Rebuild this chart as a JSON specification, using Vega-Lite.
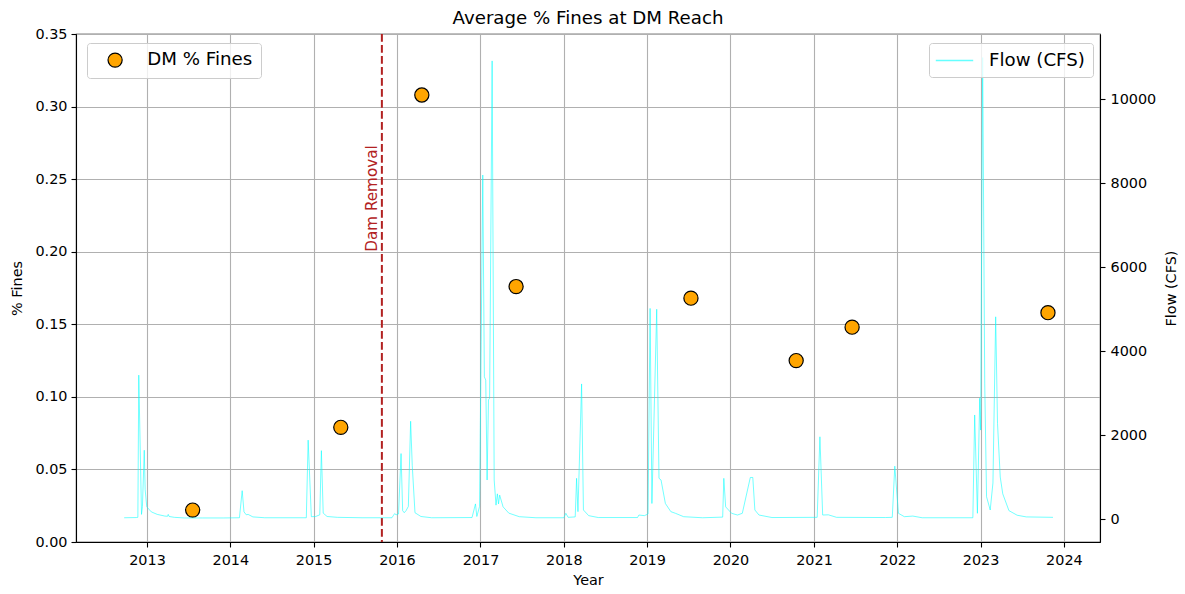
{
  "$schema": "https://vega.github.io/schema/vega-lite/v6.json",
  "width": 1024,
  "height": 508,
  "autosize": {"type": "none"},
  "padding": {"left": 76, "top": 34, "right": 85, "bottom": 52},
  "background": "white",
  "title": {"text": "Average % Fines at DM Reach", "font": "DejaVu Sans", "fontSize": 18.2, "fontWeight": "normal", "color": "black", "offset": -2},
  "config": {
    "font": "DejaVu Sans",
    "view": {"stroke": "black", "strokeWidth": 1.1},
    "axis": {
      "labelFont": "DejaVu Sans", "labelFontSize": 14.4, "labelColor": "black",
      "titleFont": "DejaVu Sans", "titleFontSize": 14.4, "titleFontWeight": "normal", "titleColor": "black",
      "tickColor": "black", "tickSize": 5, "tickWidth": 1.1,
      "domainColor": "black", "domainWidth": 1.1,
      "gridColor": "#b0b0b0", "gridWidth": 1.1, "labelPadding": 4
    },
    "legend": {"labelFont": "DejaVu Sans", "labelFontSize": 18.2, "labelColor": "black"}
  },
  "datasets": {
    "dam": [{"date": "2015-10-27", "label": "Dam Removal"}],
    "fines": [
      {"date": "2013-07-20", "fines": 0.022},
      {"date": "2015-04-30", "fines": 0.079},
      {"date": "2016-04-19", "fines": 0.308},
      {"date": "2017-06-06", "fines": 0.176},
      {"date": "2019-07-12", "fines": 0.168},
      {"date": "2020-10-15", "fines": 0.125},
      {"date": "2021-06-17", "fines": 0.148},
      {"date": "2023-10-23", "fines": 0.158}
    ],
    "flow": [
      {"date": "2012-09-23", "flow": 30},
      {"date": "2012-11-15", "flow": 35},
      {"date": "2012-11-22", "flow": 40},
      {"date": "2012-11-26", "flow": 3430},
      {"date": "2012-12-08", "flow": 110},
      {"date": "2012-12-12", "flow": 300},
      {"date": "2012-12-20", "flow": 1640},
      {"date": "2012-12-24", "flow": 700},
      {"date": "2012-12-31", "flow": 290},
      {"date": "2013-01-20", "flow": 170},
      {"date": "2013-02-15", "flow": 110},
      {"date": "2013-03-20", "flow": 70},
      {"date": "2013-04-01", "flow": 65},
      {"date": "2013-04-04", "flow": 110},
      {"date": "2013-04-08", "flow": 60},
      {"date": "2013-05-01", "flow": 40},
      {"date": "2013-06-15", "flow": 25},
      {"date": "2013-09-01", "flow": 25},
      {"date": "2013-12-01", "flow": 25},
      {"date": "2014-02-10", "flow": 30},
      {"date": "2014-02-22", "flow": 675},
      {"date": "2014-03-02", "flow": 170},
      {"date": "2014-03-12", "flow": 100},
      {"date": "2014-03-20", "flow": 110},
      {"date": "2014-04-10", "flow": 50},
      {"date": "2014-06-01", "flow": 30},
      {"date": "2014-11-30", "flow": 30},
      {"date": "2014-12-08", "flow": 1880},
      {"date": "2014-12-22", "flow": 55},
      {"date": "2015-01-10", "flow": 60},
      {"date": "2015-01-28", "flow": 100},
      {"date": "2015-02-04", "flow": 1630},
      {"date": "2015-02-12", "flow": 140},
      {"date": "2015-03-01", "flow": 60},
      {"date": "2015-04-15", "flow": 40},
      {"date": "2015-08-01", "flow": 30},
      {"date": "2015-12-10", "flow": 30},
      {"date": "2015-12-16", "flow": 80},
      {"date": "2015-12-22", "flow": 130},
      {"date": "2015-12-28", "flow": 100},
      {"date": "2016-01-08", "flow": 120},
      {"date": "2016-01-19", "flow": 1560},
      {"date": "2016-01-26", "flow": 200},
      {"date": "2016-02-02", "flow": 150},
      {"date": "2016-02-10", "flow": 200},
      {"date": "2016-02-20", "flow": 300},
      {"date": "2016-03-01", "flow": 2330},
      {"date": "2016-03-08", "flow": 1280},
      {"date": "2016-03-20", "flow": 150},
      {"date": "2016-04-15", "flow": 60},
      {"date": "2016-06-01", "flow": 30},
      {"date": "2016-11-25", "flow": 35},
      {"date": "2016-12-10", "flow": 360},
      {"date": "2016-12-16", "flow": 60},
      {"date": "2016-12-28", "flow": 300},
      {"date": "2017-01-11", "flow": 8200},
      {"date": "2017-01-18", "flow": 3390},
      {"date": "2017-01-24", "flow": 3310},
      {"date": "2017-01-30", "flow": 930},
      {"date": "2017-02-05", "flow": 2840},
      {"date": "2017-02-10", "flow": 2880},
      {"date": "2017-02-21", "flow": 10920},
      {"date": "2017-03-02", "flow": 930},
      {"date": "2017-03-10", "flow": 330},
      {"date": "2017-03-16", "flow": 600},
      {"date": "2017-03-21", "flow": 360},
      {"date": "2017-03-26", "flow": 570},
      {"date": "2017-04-10", "flow": 290},
      {"date": "2017-05-05", "flow": 140},
      {"date": "2017-06-20", "flow": 55},
      {"date": "2017-09-01", "flow": 30},
      {"date": "2018-01-01", "flow": 30},
      {"date": "2018-01-10", "flow": 136},
      {"date": "2018-01-20", "flow": 40},
      {"date": "2018-02-20", "flow": 50},
      {"date": "2018-02-26", "flow": 970},
      {"date": "2018-03-04", "flow": 175},
      {"date": "2018-03-20", "flow": 3220},
      {"date": "2018-03-28", "flow": 215},
      {"date": "2018-04-20", "flow": 80},
      {"date": "2018-06-01", "flow": 35},
      {"date": "2018-11-20", "flow": 35},
      {"date": "2018-11-26", "flow": 95},
      {"date": "2018-12-20", "flow": 80},
      {"date": "2019-01-05", "flow": 120},
      {"date": "2019-01-14", "flow": 5020},
      {"date": "2019-01-22", "flow": 370},
      {"date": "2019-02-12", "flow": 5000},
      {"date": "2019-02-22", "flow": 970},
      {"date": "2019-03-03", "flow": 930},
      {"date": "2019-03-22", "flow": 370},
      {"date": "2019-04-15", "flow": 175},
      {"date": "2019-05-05", "flow": 136},
      {"date": "2019-06-10", "flow": 55},
      {"date": "2019-09-01", "flow": 30},
      {"date": "2019-11-28", "flow": 45},
      {"date": "2019-12-03", "flow": 970},
      {"date": "2019-12-11", "flow": 290},
      {"date": "2020-01-06", "flow": 136},
      {"date": "2020-02-01", "flow": 95},
      {"date": "2020-02-22", "flow": 136},
      {"date": "2020-03-28", "flow": 990},
      {"date": "2020-04-08", "flow": 990},
      {"date": "2020-04-17", "flow": 215},
      {"date": "2020-05-05", "flow": 95},
      {"date": "2020-07-01", "flow": 35},
      {"date": "2021-01-15", "flow": 40},
      {"date": "2021-01-27", "flow": 1960},
      {"date": "2021-02-08", "flow": 95},
      {"date": "2021-03-05", "flow": 100},
      {"date": "2021-04-10", "flow": 40},
      {"date": "2021-11-10", "flow": 35},
      {"date": "2021-12-10", "flow": 40},
      {"date": "2021-12-21", "flow": 1260},
      {"date": "2022-01-06", "flow": 136},
      {"date": "2022-02-01", "flow": 55},
      {"date": "2022-03-10", "flow": 70},
      {"date": "2022-04-20", "flow": 30},
      {"date": "2022-11-28", "flow": 30},
      {"date": "2022-12-06", "flow": 2480},
      {"date": "2022-12-18", "flow": 136},
      {"date": "2022-12-28", "flow": 2880},
      {"date": "2023-01-01", "flow": 2120},
      {"date": "2023-01-10", "flow": 11000},
      {"date": "2023-01-19", "flow": 3240},
      {"date": "2023-01-27", "flow": 530},
      {"date": "2023-02-12", "flow": 215},
      {"date": "2023-02-24", "flow": 860},
      {"date": "2023-03-08", "flow": 4820},
      {"date": "2023-03-16", "flow": 2280},
      {"date": "2023-03-28", "flow": 1000},
      {"date": "2023-04-08", "flow": 600},
      {"date": "2023-05-05", "flow": 200},
      {"date": "2023-06-10", "flow": 90},
      {"date": "2023-07-20", "flow": 50},
      {"date": "2023-11-14", "flow": 40}
    ]
  },
  "layer": [
    {
      "layer": [
        {
          "data": {"name": "fines"},
          "mark": {"type": "point", "shape": "circle", "filled": true, "size": 200, "stroke": "black", "strokeWidth": 1.2, "opacity": 1},
          "encoding": {
            "x": {"field": "date", "type": "temporal",
                  "scale": {"domain": ["2012-02-25", "2024-06-07"]},
                  "axis": {"format": "%Y", "tickCount": {"interval": "year", "step": 1}, "title": "Year", "grid": true, "titlePadding": 7, "labelPadding": 6, "labelFlush": false}},
            "y": {"field": "fines", "type": "quantitative",
                  "scale": {"domain": [0, 0.35], "nice": false},
                  "axis": {"orient": "left", "title": "% Fines", "values": [0, 0.05, 0.1, 0.15, 0.2, 0.25, 0.3, 0.35], "format": ".2f", "grid": true, "titlePadding": 10}},
            "fill": {"datum": "DM % Fines", "type": "nominal", "scale": {"range": ["#ffa500"]},
                     "legend": {"title": null, "orient": "none", "legendX": 11, "legendY": 9, "symbolType": "circle", "symbolSize": 200, "symbolStrokeColor": "black", "symbolStrokeWidth": 1.2, "symbolOffset": 11, "labelOffset": 23, "padding": 8, "fillColor": "rgba(255,255,255,0.8)", "strokeColor": "#cccccc", "cornerRadius": 3}}
          }
        },
        {
          "data": {"name": "dam"},
          "mark": {"type": "rule", "color": "#b22222", "strokeWidth": 2, "strokeDash": [7.7, 3.3]},
          "encoding": {
            "x": {"field": "date", "type": "temporal"}
          }
        },
        {
          "data": {"name": "dam"},
          "mark": {"type": "text", "angle": 270, "align": "left", "baseline": "bottom", "dy": -2, "color": "#b22222", "fontSize": 15.2, "font": "DejaVu Sans"},
          "encoding": {
            "x": {"field": "date", "type": "temporal"},
            "y": {"datum": 0.2, "type": "quantitative"},
            "text": {"field": "label"}
          }
        }
      ]
    },
    {
      "data": {"name": "flow"},
      "mark": {"type": "line", "strokeWidth": 1, "opacity": 0.55},
      "encoding": {
        "x": {"field": "date", "type": "temporal"},
        "y": {"field": "flow", "type": "quantitative",
              "scale": {"domain": [-548, 11561], "nice": false, "zero": false},
              "axis": {"orient": "right", "title": "Flow (CFS)", "titleAngle": 270, "values": [0, 2000, 4000, 6000, 8000, 10000], "format": "d", "grid": false, "titlePadding": 23, "labelPadding": 5}},
        "stroke": {"datum": "Flow (CFS)", "type": "nominal", "scale": {"range": ["#00ffff"]},
                   "legend": {"title": null, "orient": "none", "legendX": 853, "legendY": 9, "symbolType": "M-2.2,0L2.2,0", "symbolSize": 289, "symbolStrokeWidth": 1.5, "symbolOpacity": 0.6, "symbolOffset": 8, "labelOffset": 25, "padding": 8, "fillColor": "rgba(255,255,255,0.8)", "strokeColor": "#cccccc", "cornerRadius": 3}}
      }
    }
  ],
  "resolve": {"scale": {"y": "independent"}}
}
